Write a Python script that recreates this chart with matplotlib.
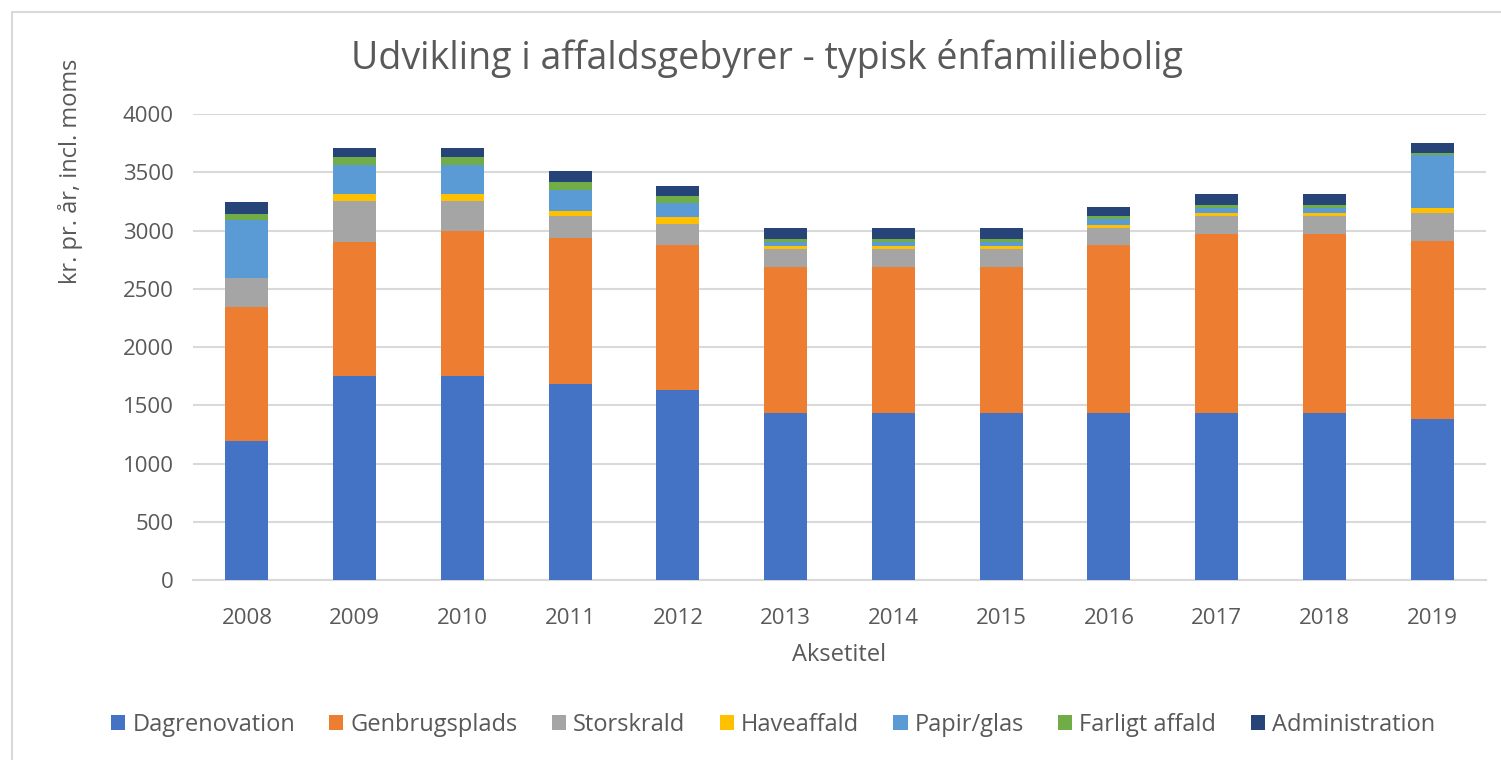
import matplotlib
matplotlib.use('Agg')
import matplotlib.pyplot as plt
import numpy as np

plt.rcParams['font.family'] = ['Open Sans', 'DejaVu Sans']

years = ['2008', '2009', '2010', '2011', '2012', '2013',
         '2014', '2015', '2016', '2017', '2018', '2019']

dagrenovation = [1190, 1750, 1750, 1680, 1630, 1430, 1430, 1430, 1430, 1430, 1430, 1380]
genbrugsplads = [1150, 1150, 1250, 1255, 1245, 1255, 1255, 1255, 1445, 1540, 1540, 1530]
storskrald = [250, 350, 250, 190, 185, 155, 155, 155, 150, 155, 155, 240]
haveaffald = [0, 60, 60, 45, 55, 25, 25, 25, 25, 25, 25, 45]
papir_glas = [500, 250, 250, 180, 125, 35, 35, 35, 45, 45, 45, 455]
farligt_affald = [55, 70, 70, 65, 55, 30, 30, 30, 30, 20, 20, 15]
administration = [100, 80, 80, 95, 90, 95, 95, 95, 80, 95, 95, 90]

series = [
    ('Dagrenovation', dagrenovation, '#4472C4'),
    ('Genbrugsplads', genbrugsplads, '#ED7D31'),
    ('Storskrald', storskrald, '#A5A5A5'),
    ('Haveaffald', haveaffald, '#FFC000'),
    ('Papir/glas', papir_glas, '#5B9BD5'),
    ('Farligt affald', farligt_affald, '#70AD47'),
    ('Administration', administration, '#264478'),
]

fig = plt.figure(figsize=(15.01, 7.6), dpi=100)
ax = fig.add_axes([0.1286, 0.2368, 0.8614, 0.6132])

x = np.arange(len(years))
bottom = np.zeros(len(years))
for name, vals, col in series:
    ax.bar(x, vals, 0.4, bottom=bottom, color=col, label=name, zorder=3)
    bottom += np.array(vals)

ax.set_xlim(-0.5, len(years) - 0.5)
ax.set_ylim(0, 4000)
ax.set_yticks(range(0, 4001, 500))
ax.set_xticks(x)
ax.set_xticklabels(years)
ax.grid(axis='y', color='#D9D9D9', linewidth=1.5, zorder=0)
for s in ['top', 'right', 'left']:
    ax.spines[s].set_visible(False)
ax.spines['bottom'].set_color('#D9D9D9')
ax.spines['bottom'].set_linewidth(1.5)
ax.tick_params(axis='x', length=0, labelsize=16, colors='#595959', pad=20)
ax.tick_params(axis='y', length=0, labelsize=16, colors='#595959', pad=14)
ax.set_xlabel('Aksetitel', fontsize=17, color='#595959', labelpad=10)

fig.text(0.511, 0.923, 'Udvikling i affaldsgebyrer - typisk énfamiliebolig',
         ha='center', va='center', fontsize=27, color='#595959')
fig.text(0.047, 0.774, 'kr. pr. år, incl. moms', rotation=90,
         ha='center', va='center', fontsize=17, color='#595959')

leg = fig.legend(loc='center', bbox_to_anchor=(0.515, 0.046), ncol=7,
                 frameon=False, fontsize=17, handlelength=0.6, handleheight=0.6,
                 handletextpad=0.3, columnspacing=1.45, labelcolor='#595959')

fig.add_artist(plt.Rectangle((12 / 1501, -0.1), 1.2, 1 - 12 / 760 + 0.1,
                             transform=fig.transFigure, fill=False,
                             edgecolor='#D9D9D9', linewidth=1.5))

fig.savefig('out.png', dpi=100)
